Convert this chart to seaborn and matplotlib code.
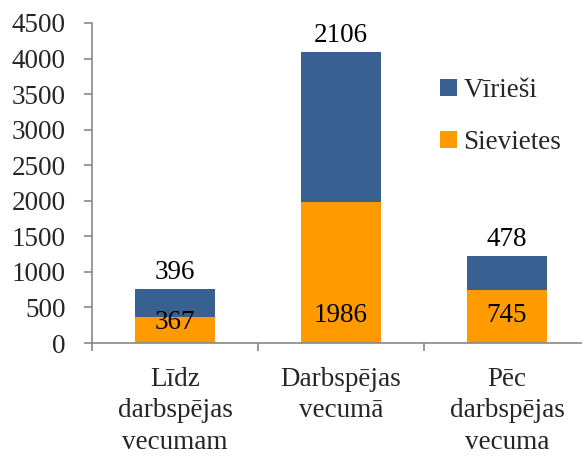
import matplotlib
matplotlib.use("Agg")
import matplotlib.pyplot as plt
from matplotlib.patches import Patch
import seaborn as sns
import pandas as pd

categories = ["Līdz\ndarbspējas\nvecumam", "Darbspējas\nvecumā", "Pēc\ndarbspējas\nvecuma"]
sievietes = [367, 1986, 745]
virieshi = [396, 2106, 478]
series_names = ["Vīrieši", "Sievietes"]
yticks = [0, 500, 1000, 1500, 2000, 2500, 3000, 3500, 4000, 4500]

blue = "#386192"
orange = "#FF9A00"

sns.set_theme(style="white")
plt.rcParams['font.family'] = ['Liberation Serif', 'DejaVu Serif']
FS = 19.5

df = pd.DataFrame({"cat": categories, "Sievietes": sievietes, "Vīrieši": virieshi})
df["total"] = df["Sievietes"] + df["Vīrieši"]

fig = plt.figure(figsize=(5.82, 4.61), dpi=100)
ax = fig.add_axes([92/582, 1-343/461, (590-92)/582, (343-23)/461])

sns.barplot(data=df, x="cat", y="total", color=blue, saturation=1, width=0.48, ax=ax, linewidth=0)
sns.barplot(data=df, x="cat", y="Sievietes", color=orange, saturation=1, width=0.48, ax=ax, linewidth=0)

ax.set_xlim(-0.5, 2.5)
ax.set_ylim(0, 4500)
ax.set_yticks(yticks)
ax.set_yticklabels([str(v) for v in yticks], fontsize=FS)
ax.set_xlabel("")
ax.set_ylabel("")

# x ticks: marks between categories, labels at category centers
ax.set_xticks([-0.5, 0.5, 1.5, 2.5])
ax.set_xticklabels([])
ax.set_xticks([0, 1, 2], minor=True)
ax.set_xticklabels(categories, minor=True, fontsize=FS, linespacing=1.36)
ax.tick_params(axis='x', which='major', direction='out', length=8*0.72, width=1.2, color='#888888', bottom=True)
ax.tick_params(axis='x', which='minor', length=0, pad=17, bottom=True)
ax.tick_params(axis='y', direction='out', length=8*0.72, width=1.2, color='#888888', pad=13, left=True)

for s in ["top", "right"]:
    ax.spines[s].set_visible(False)
for s in ["left", "bottom"]:
    ax.spines[s].set_color('#888888')
    ax.spines[s].set_linewidth(1.2)

for i, (w, m, t) in enumerate(zip(sievietes, virieshi, df["total"])):
    ax.annotate(str(m), (i, t), xytext=(0, 12), textcoords="offset points",
                ha="center", va="center", fontsize=FS, color="black")
    yc = min(380, w * 0.8)
    ax.text(i, yc, str(w), ha="center", va="center", fontsize=FS, color="black")

handles = [Patch(facecolor=blue, edgecolor='none'), Patch(facecolor=orange, edgecolor='none')]
fig.legend(handles, series_names, loc="upper left", bbox_to_anchor=(440/582, 1-78/461),
           frameon=False, fontsize=FS, handlelength=0.62, handleheight=0.62,
           handletextpad=0.25, labelspacing=1.0, borderpad=0, borderaxespad=0)

fig.savefig("out.png", dpi=100)
